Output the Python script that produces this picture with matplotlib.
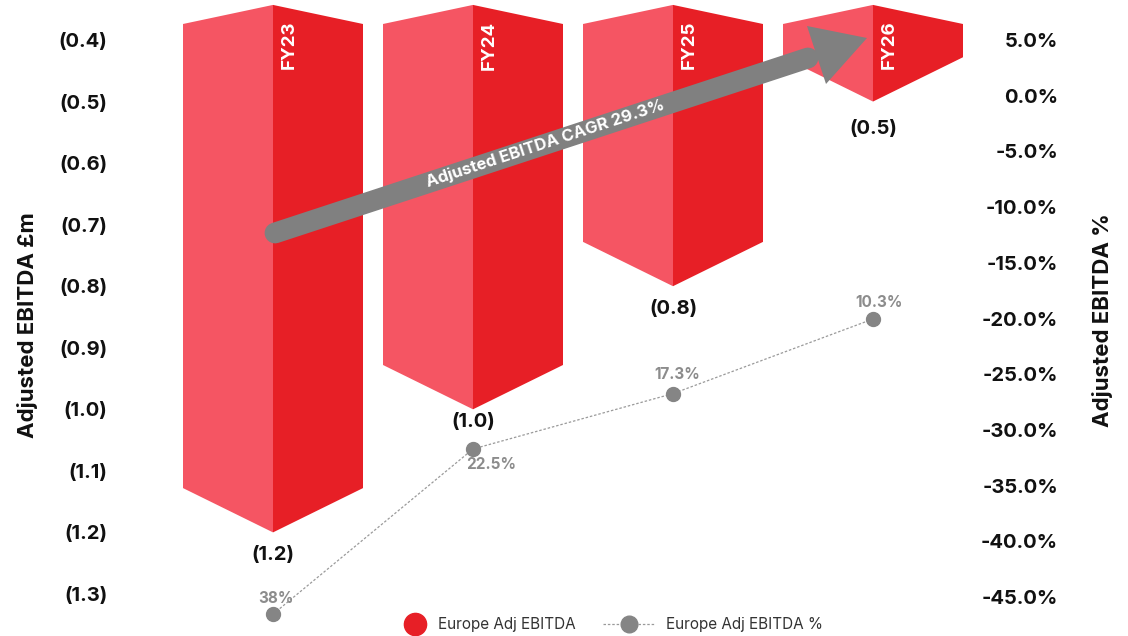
import matplotlib
matplotlib.use("Agg")
import matplotlib.pyplot as plt
import numpy as np
from matplotlib.lines import Line2D
from matplotlib.patches import Polygon

years = ["FY23", "FY24", "FY25", "FY26"]
adj_ebitda = [-1.2, -1.0, -0.8, -0.5]
adj_ebitda_labels = ["(1.2)", "(1.0)", "(0.8)", "(0.5)"]
margin_pct = [38.0, 22.5, 17.3, 10.3]
margin_labels = ["38%", "22.5%", "17.3%", "10.3%"]
left_ticks = [-0.4, -0.5, -0.6, -0.7, -0.8, -0.9, -1.0, -1.1, -1.2, -1.3]
left_tick_labels = ["(0.4)", "(0.5)", "(0.6)", "(0.7)", "(0.8)", "(0.9)", "(1.0)", "(1.1)", "(1.2)", "(1.3)"]
right_ticks = [5, 0, -5, -10, -15, -20, -25, -30, -35, -40, -45]
right_tick_labels = ["5.0%", "0.0%", "-5.0%", "-10.0%", "-15.0%", "-20.0%", "-25.0%", "-30.0%", "-35.0%", "-40.0%", "-45.0%"]

LIGHT = "#F55563"
DARK = "#E71F26"
GREY = "#808080"
W, H = 1128, 636
LABEL_SIZE = 14.5
TITLE_SIZE = 16

plt.rcParams["font.family"] = ["Inter", "DejaVu Sans"]
fig = plt.figure(figsize=(W / 100, H / 100), dpi=100)

# Axes span the full height; horizontal extent fixes the category spacing.
ax_l, ax_r = 120, 980
ax = fig.add_axes([ax_l / W, 0, (ax_r - ax_l) / W, 1])
ax.set_xlim((ax_l - 273) / 200, (ax_r - 273) / 200)
ax.set_ylim(-0.4 - (636 - 40) / 615.5, -0.4 + 40 / 615.5)
for s in ax.spines.values():
    s.set_visible(False)
ax.set_xticks([])
ax.set_yticks(left_ticks, left_tick_labels)
ax.tick_params(axis="y", length=0, pad=9, labelsize=LABEL_SIZE)
for t in ax.get_yticklabels():
    t.set_fontweight("bold")
    t.set_color("#111111")
ax.set_ylabel("Adjusted EBITDA £m", fontsize=TITLE_SIZE, fontweight="bold", color="#111111")
ax.yaxis.set_label_coords((38 - ax_l) / (ax_r - ax_l), 1 - 325 / H)

# Prism-shaped columns: a lighter left face and a darker right face.
half = 0.45
top_tip, top_edge, chamfer = -0.343, -0.374, 0.072
label_drop = [-16.5, -9, -16.5, -20]
for i, (year, val, lab, drop) in enumerate(zip(years, adj_ebitda, adj_ebitda_labels, label_drop)):
    ax.fill([i - half, i, i, i - half], [top_edge, top_tip, val, val + chamfer], color=LIGHT, lw=0, zorder=2)
    ax.fill([i, i + half, i + half, i], [top_tip, top_edge, val + chamfer, val], color=DARK, lw=0, zorder=2)
    ax.text(i + 0.08, -0.4 - 5 / 615.5, year, rotation=90, color="white", fontsize=13.5,
            fontweight="bold", ha="center", va="center", zorder=5)
    ax.annotate(lab, (i, val), xytext=(0, drop), textcoords="offset points", ha="center", va="center",
                fontsize=LABEL_SIZE, fontweight="bold", color="#111111", zorder=5)

# Right-hand percentage scale.
axr = ax.twinx()
axr.set_ylim(5 - (636 - 40) / 11.14, 5 + 40 / 11.14)
for s in axr.spines.values():
    s.set_visible(False)
axr.set_yticks(right_ticks, right_tick_labels)
axr.tick_params(axis="y", length=0, pad=(1058 - ax_r) * 0.72, labelsize=LABEL_SIZE)
for t in axr.get_yticklabels():
    t.set_fontweight("bold")
    t.set_ha("right")
    t.set_color("#111111")
axr.set_ylabel("Adjusted EBITDA %", fontsize=TITLE_SIZE, fontweight="bold", color="#111111", rotation=90)
axr.yaxis.set_label_coords((1092 - ax_l) / (ax_r - ax_l), 1 - 320 / H)

# Margin line on its own hidden, downward-growing scale.
axm = ax.twinx()
axm.set_ylim(40.05, -19.64)
axm.axis("off")
axm.plot(range(4), margin_pct, ls=(0, (2, 1.5)), lw=0.9, color="#9a9a9a", marker="o", ms=10,
         mfc="#858585", mec="#858585", zorder=3)
offsets = [(2, 11), (13, -11), (3, 14), (4, 12)]
for i, (v, lab, off) in enumerate(zip(margin_pct, margin_labels, offsets)):
    axm.annotate(lab, (i, v), xytext=off, textcoords="offset points", ha="center", va="center",
                 fontsize=11, fontweight="bold", color="#8c8c8c")

# CAGR arrow, laid out in figure pixels.
px = fig.transFigure
def to_fig(pts):
    return [(x / W, 1 - y / H) for x, y in pts]

(x0, y0), (x1, y1) = to_fig([(275, 233), (808, 58)])
fig.add_artist(Line2D([x0, x1], [y0, y1], transform=px, color=GREY, lw=15, solid_capstyle="round", zorder=6))
fig.add_artist(Polygon(to_fig([(807, 26), (867, 38), (826, 84)]), closed=True, transform=px,
                       facecolor=GREY, edgecolor="none", zorder=6))
fig.text(545 / W, 1 - 144 / H, "Adjusted EBITDA CAGR 29.3%", rotation=18.2, rotation_mode="anchor",
         ha="center", va="center", color="white", fontsize=12, fontweight="bold", zorder=7)

# Two separate legend entries, since their key widths differ.
legend_opts = dict(frameon=False, loc="center left", fontsize=11, labelcolor="#333333",
                   borderpad=0, borderaxespad=0)
fig.legend([Line2D([], [], ls="none", marker="o", ms=16, color=DARK)], ["Europe Adj EBITDA"],
           bbox_to_anchor=(407 / W, 1 - 625 / H), handlelength=1.0, handletextpad=1.0, **legend_opts)
fig.legend([Line2D([], [], ls=(0, (2, 1.5)), lw=0.9, color="#9a9a9a", marker="o", ms=12,
                   mfc="#858585", mec="#858585")], ["Europe Adj EBITDA %"],
           bbox_to_anchor=(603 / W, 1 - 625 / H), handlelength=3.4, handletextpad=0.7, **legend_opts)

fig.savefig("out.png", dpi=100)
